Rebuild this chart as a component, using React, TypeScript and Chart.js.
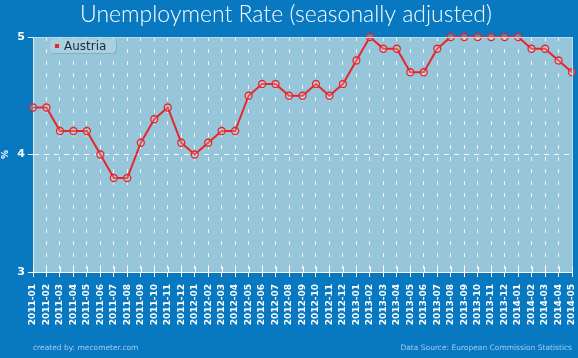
import React, { useEffect, useRef } from "react";
import { Chart, registerables } from "chart.js";

Chart.register(...registerables);

const months: string[] = [
  "2011-01", "2011-02", "2011-03", "2011-04", "2011-05", "2011-06", "2011-07", "2011-08", "2011-09", "2011-10", "2011-11", "2011-12",
  "2012-01", "2012-02", "2012-03", "2012-04", "2012-05", "2012-06", "2012-07", "2012-08", "2012-09", "2012-10", "2012-11", "2012-12",
  "2013-01", "2013-02", "2013-03", "2013-04", "2013-05", "2013-06", "2013-07", "2013-08", "2013-09", "2013-10", "2013-11", "2013-12",
  "2014-01", "2014-02", "2014-03", "2014-04", "2014-05",
];

const austria: number[] = [
  4.4, 4.4, 4.2, 4.2, 4.2, 4.0, 3.8, 3.8, 4.1, 4.3, 4.4, 4.1,
  4.0, 4.1, 4.2, 4.2, 4.5, 4.6, 4.6, 4.5, 4.5, 4.6, 4.5, 4.6,
  4.8, 5.0, 4.9, 4.9, 4.7, 4.7, 4.9, 5.0, 5.0, 5.0, 5.0, 5.0,
  5.0, 4.9, 4.9, 4.8, 4.7,
];

const yTicks: number[] = [3, 4, 5];

const TITLE = "Unemployment Rate (seasonally adjusted)";
const SERIES = "Austria";
const Y_TITLE = "%";
const CREDIT = "created by: mecometer.com";
const SOURCE = "Data Source: European Commission Statistics";

const PAGE_BG = "#0879c1";
const PLOT_BG = "#97c6da";
const LINE = "#e5262b";

const decor = {
  id: "decor",
  beforeDraw(chart: any) {
    const { ctx, chartArea: a, width, height } = chart;
    ctx.save();
    ctx.fillStyle = PAGE_BG;
    ctx.fillRect(0, 0, width, height);
    ctx.fillStyle = PLOT_BG;
    ctx.fillRect(a.left, a.top, a.right - a.left, a.bottom - a.top);
    ctx.restore();
  },
  afterDraw(chart: any) {
    const { ctx, chartArea: a, width, scales } = chart;
    ctx.save();
    // frame top/right
    ctx.strokeStyle = "#b9dcea";
    ctx.lineWidth = 1;
    ctx.beginPath();
    ctx.moveTo(a.left, a.top + 0.5);
    ctx.lineTo(a.right + 0.5, a.top + 0.5);
    ctx.lineTo(a.right + 0.5, a.bottom);
    ctx.stroke();

    // tick marks crossing the x axis line (upper half)
    ctx.strokeStyle = "#ffffff";
    ctx.beginPath();
    const xs = scales.x;
    for (let i = 0; i < months.length; i++) {
      const px = Math.round(xs.getPixelForValue(i)) + 0.5;
      ctx.moveTo(px, a.bottom - 5);
      ctx.lineTo(px, a.bottom);
    }
    ctx.stroke();

    // legend
    const lx = 50, ly = 39, lw = 66, lh = 14, r = 4;
    ctx.fillStyle = "#86aec2";
    ctx.beginPath();
    ctx.roundRect(lx + 1, ly + 1, lw, lh, r);
    ctx.fill();
    ctx.fillStyle = "#a9d0e1";
    ctx.beginPath();
    ctx.roundRect(lx, ly, lw, lh, r);
    ctx.fill();
    ctx.fillStyle = LINE;
    ctx.fillRect(55, 44, 4, 4);
    ctx.fillStyle = "#1b2a38";
    ctx.font = "12px 'DejaVu Sans'";
    ctx.textBaseline = "middle";
    ctx.textAlign = "left";
    ctx.fillText(SERIES, 64, ly + lh / 2 + 0.5);

    // footer
    ctx.fillStyle = "#9fcdee";
    ctx.font = "7.5px 'DejaVu Sans'";
    ctx.textAlign = "left";
    ctx.fillText(CREDIT, 33, 348);
    ctx.textAlign = "right";
    ctx.fillText(SOURCE, width - 6, 348);
    ctx.restore();
  },
};

export default function App() {
  const ref = useRef<HTMLCanvasElement | null>(null);

  useEffect(() => {
    document.body.style.margin = "0";
    const canvas = ref.current!;
    const chart = new Chart(canvas, {
      type: "line",
      data: {
        labels: months,
        datasets: [
          {
            label: SERIES,
            data: austria,
            borderColor: LINE,
            borderWidth: 2,
            pointRadius: 3.5,
            pointBorderWidth: 1.3,
            pointBorderColor: LINE,
            pointBackgroundColor: "rgba(255,255,255,0.2)",
            tension: 0,
            clip: false as any,
          },
        ],
      },
      options: {
        responsive: false,
        animation: false,
        layout: { padding: { left: 0, right: 6, top: 0, bottom: 0 } },
        plugins: {
          legend: { display: false },
          tooltip: { enabled: false },
          title: {
            display: true,
            text: TITLE,
            color: "#ffffff",
            font: { family: "Lato", size: 23, weight: 300 as any, lineHeight: 1.2 },
            padding: { top: 1, bottom: 8.4 },
          },
        },
        scales: {
          x: {
            offset: false,
            afterFit(scale: any) {
              scale.height = 86;
              scale.paddingRight = 0;
              scale.paddingLeft = 0;
            },
            grid: {
              color: "rgba(255,255,255,0.85)",
              lineWidth: 1,
              drawTicks: true,
              tickLength: 5,
              tickColor: "#ffffff",
              tickBorderDash: [],
            } as any,
            border: { color: "#ffffff", width: 1, dash: [4, 8] } as any,
            ticks: {
              color: "#ffffff",
              autoSkip: false,
              minRotation: 90,
              maxRotation: 90,
              padding: 7,
              font: { family: "DejaVu Sans", size: 9, weight: "bold" as any },
            },
          },
          y: {
            min: 3,
            max: 5,
            afterFit(scale: any) {
              scale.width = 33;
              scale.paddingTop = 0;
              scale.paddingBottom = 0;
            },
            afterBuildTicks(scale: any) {
              scale.ticks = yTicks.map((v) => ({ value: v }));
            },
            grid: {
              color: "rgba(255,255,255,0.9)",
              lineWidth: 1,
              tickLength: 5,
              tickColor: "#ffffff",
              tickBorderDash: [],
            } as any,
            border: { color: "#d6ebf4", width: 1, dash: [5, 5] } as any,
            ticks: {
              color: "#ffffff",
              padding: 3,
              font: { family: "DejaVu Sans", size: 11, weight: "bold" as any },
            },
            title: {
              display: true,
              text: Y_TITLE,
              color: "#ffffff",
              padding: { top: 0, bottom: 0 },
              font: { family: "DejaVu Sans", size: 9, weight: "bold" as any },
            },
          },
        },
      },
      plugins: [decor],
    });
    return () => chart.destroy();
  }, []);

  return <canvas ref={ref} width={578} height={358} style={{ display: "block" }} />;
}
